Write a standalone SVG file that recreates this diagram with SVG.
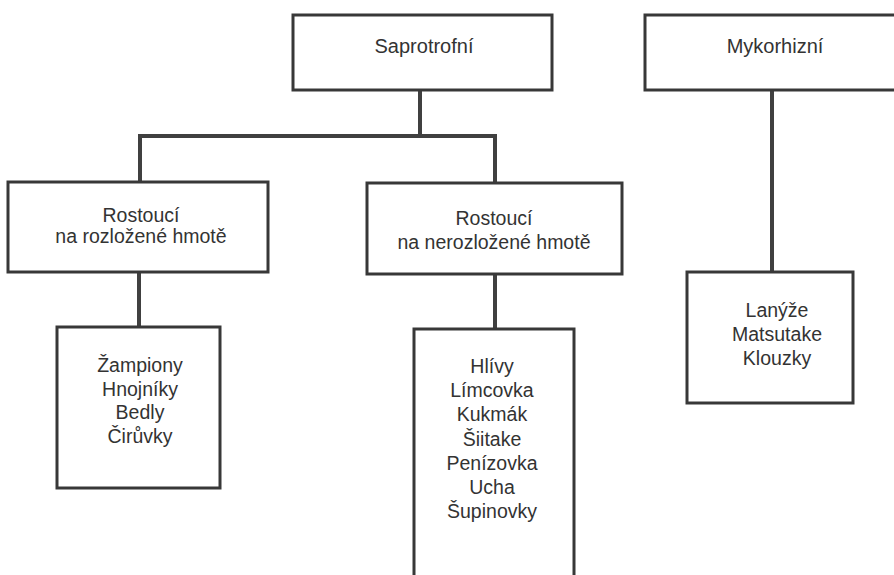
<svg xmlns="http://www.w3.org/2000/svg" width="894" height="575" viewBox="0 0 894 575">
<style>
.box{fill:#fff;stroke:#383838;stroke-width:3}
.con{fill:none;stroke:#404040;stroke-width:4}
text{font-family:"Liberation Sans",Arial,sans-serif;font-size:19.5px;fill:#333;text-anchor:middle}
</style>
<rect width="894" height="575" fill="#fff"/>
<g id="connectors">
<path class="con" d="M420,90 V136 M140,136 H495 M140,134 V182 M495,134 V183"/>
<path class="con" d="M139,272 V327"/>
<path class="con" d="M495,274 V329"/>
<path class="con" d="M772,90 V272"/>
</g>
<g id="saprotrofni">
<rect class="box" x="293" y="15" width="259" height="75"/>
<text x="424" y="53" style="font-size:20px">Saprotrofní</text>
</g>
<g id="mykorhizni">
<rect class="box" x="645" y="15" width="260" height="75"/>
<text x="775" y="53" style="font-size:20px">Mykorhizní</text>
</g>
<g id="rozlozene">
<rect class="box" x="8" y="182" width="260" height="90"/>
<text x="141" y="222">Rostoucí</text>
<text x="141" y="243">na rozložené hmotě</text>
</g>
<g id="nerozlozene">
<rect class="box" x="367" y="183" width="255" height="91"/>
<text x="494" y="225">Rostoucí</text>
<text x="494" y="249">na nerozložené hmotě</text>
</g>
<g id="list1">
<rect class="box" x="57" y="327" width="163" height="161"/>
<text x="140" y="372">Žampiony</text>
<text x="140" y="396">Hnojníky</text>
<text x="140" y="419">Bedly</text>
<text x="140" y="443">Čirůvky</text>
</g>
<g id="list2">
<rect class="box" x="414" y="329" width="160" height="260"/>
<text x="492" y="373">Hlívy</text>
<text x="492" y="397">Límcovka</text>
<text x="492" y="421">Kukmák</text>
<text x="492" y="446">Šiitake</text>
<text x="492" y="470">Penízovka</text>
<text x="492" y="494">Ucha</text>
<text x="492" y="518">Šupinovky</text>
</g>
<g id="list3">
<rect class="box" x="687" y="272" width="166" height="131"/>
<text x="777" y="317">Lanýže</text>
<text x="777" y="341">Matsutake</text>
<text x="777" y="365">Klouzky</text>
</g>
</svg>
